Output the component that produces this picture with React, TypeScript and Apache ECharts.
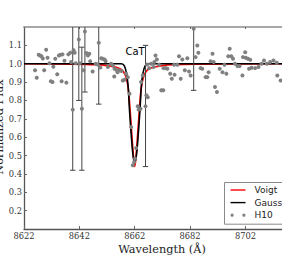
import React, { useEffect, useRef } from "react";
import * as echarts from "echarts";

const X0 = 8622;
const xTicks = [8622, 8642, 8662, 8682, 8702];
const yTicks = [0.2, 0.3, 0.4, 0.5, 0.6, 0.7, 0.8, 0.9, 1.0, 1.1];

// H10 observed spectrum (wavelength, normalized flux)
const h10Wave = [
  8626.0, 8626.6, 8627.3, 8627.8, 8628.3, 8628.8, 8629.3, 8630.0, 8630.5, 8631.2,
  8631.7, 8632.3, 8632.6, 8633.3, 8634.0, 8634.6, 8635.2, 8635.9, 8635.6, 8636.6,
  8637.3, 8638.0, 8638.7, 8639.0, 8639.9, 8640.3, 8639.6, 8641.8, 8640.7, 8642.1,
  8642.9, 8644.0, 8643.5, 8644.5, 8645.1, 8645.6, 8645.9, 8646.8, 8647.9, 8648.6,
  8649.0, 8649.6, 8649.9, 8650.4, 8651.1, 8651.5, 8652.3, 8653.5, 8654.1, 8654.7,
  8654.6, 8655.3, 8655.8, 8656.2, 8657.2, 8657.7, 8658.3, 8658.9, 8659.5, 8660.1,
  8660.7, 8661.3, 8661.8, 8662.1, 8662.5, 8663.1, 8663.4, 8664.1, 8664.3, 8664.9,
  8665.9, 8666.2, 8666.7, 8666.5, 8667.2, 8667.9, 8668.8, 8669.5, 8669.1, 8670.0,
  8670.8, 8671.6, 8672.3, 8672.4, 8673.2, 8673.8, 8674.8, 8675.4, 8676.2, 8676.4,
  8677.4, 8678.0, 8678.6, 8679.2, 8680.1, 8681.0, 8681.6, 8682.2, 8683.3, 8684.0,
  8684.6, 8685.0, 8685.8, 8686.4, 8687.6, 8688.2, 8688.7, 8689.4, 8690.1, 8690.5,
  8691.0, 8691.7, 8692.7, 8693.7, 8694.4, 8695.1, 8695.8, 8696.3, 8696.9, 8697.5,
  8698.2, 8699.1, 8699.9, 8700.9, 8701.1, 8701.9, 8702.1, 8702.9, 8703.7, 8703.3,
  8704.2, 8705.5, 8706.7, 8707.8, 8708.7, 8709.7, 8710.9, 8712.1, 8713.3, 8713.5,
  8714.7,
];
const h10Flux = [
  0.964, 0.924, 1.049, 1.045, 1.041, 1.029, 0.964, 1.076, 1.033, 1.003,
  0.905, 0.900, 0.984, 1.027, 0.943, 1.045, 1.049, 1.051, 0.905, 1.016,
  0.897, 1.051, 1.060, 1.009, 1.074, 1.060, 0.750, 1.132, 1.003, 1.003,
  0.755, 1.176, 0.964, 1.058, 1.045, 1.054, 1.013, 0.958, 1.000, 0.996,
  1.114, 0.980, 1.030, 1.027, 1.023, 1.014, 0.982, 1.000, 0.991, 0.973,
  0.931, 0.967, 0.954, 0.964, 0.960, 0.909, 0.913, 0.946, 0.927, 0.837,
  0.655, 0.447, 0.465, 0.484, 0.541, 0.768, 0.750, 0.755, 0.900, 0.936,
  0.768, 0.828, 0.818, 0.996, 0.976, 1.000, 0.982, 1.045, 1.009, 1.023,
  0.995, 0.855, 0.855, 0.976, 0.976, 0.973, 0.946, 0.918, 0.995, 0.940,
  0.995, 1.041, 0.918, 1.023, 0.964, 1.030, 0.958, 0.936, 1.190, 1.036,
  1.099, 1.060, 0.976, 0.973, 0.927, 0.927, 0.954, 1.013, 1.054, 1.009,
  0.873, 0.846, 0.973, 0.954, 0.995, 0.946, 1.041, 1.082, 1.041, 1.027,
  1.000, 0.987, 0.987, 0.936, 1.036, 1.063, 1.033, 1.027, 1.022, 0.973,
  0.978, 0.976, 0.982, 1.000, 1.018, 1.000, 1.009, 1.018, 1.005, 0.936,
  0.909,
];

// error bars (wavelength, lower, upper)
const errWave = [8639.6, 8641.8, 8642.9, 8644.0, 8649.0, 8665.9, 8683.3];
const errLow = [0.42, 0.80, 0.42, 0.846, 0.78, 0.44, 0.855];
const errHigh = [1.25, 1.46, 1.09, 1.51, 1.45, 1.10, 1.52];

// Voigt fit
const voigtWave = [
  8622, 8640, 8648, 8652, 8655, 8657, 8658, 8659, 8659.7, 8660.3, 8661, 8661.5,
  8662.0, 8662.5, 8663, 8663.7, 8664.3, 8665, 8666, 8667, 8669, 8672, 8676, 8684, 8716,
];
const voigtFlux = [
  1.0, 0.998, 0.995, 0.99, 0.982, 0.97, 0.955, 0.92, 0.86, 0.75, 0.6, 0.5,
  0.44, 0.5, 0.6, 0.75, 0.86, 0.92, 0.955, 0.97, 0.982, 0.99, 0.995, 0.998, 1.0,
];

// Gaussian fit
const gaussWave = [
  8622, 8657, 8658.2, 8659, 8659.6, 8660.1, 8660.8, 8661.4, 8662.0, 8662.6,
  8663.2, 8663.9, 8664.4, 8665, 8665.8, 8667, 8716,
];
const gaussFlux = [
  1.0, 1.0, 0.99, 0.95, 0.88, 0.75, 0.6, 0.5, 0.465, 0.5,
  0.6, 0.75, 0.88, 0.95, 0.99, 1.0, 1.0,
];

const SERIF = "DejaVu Serif";
const SANS = "DejaVu Sans";

export default function App() {
  const ref = useRef<HTMLDivElement>(null);
  useEffect(() => {
    if (!ref.current) return;
    const chart = echarts.init(ref.current, undefined, { renderer: "svg" });
    const pair = (w: number[], f: number[]) => w.map((x, i) => [x - X0, f[i]]);
    const xMax = 93.2;
    const lineIcon = "path://M0,0M15,10M0,4.3h15v1.4h-15z";
    const dotIcon =
      "path://M0,0M15,10M0,5a1.6,1.6 0 1,0 3.2,0a1.6,1.6 0 1,0 -3.2,0zM11.8,5a1.6,1.6 0 1,0 3.2,0a1.6,1.6 0 1,0 -3.2,0z";
    const option: any = {
      animation: false,
      backgroundColor: "#ffffff",
      grid: { left: 24, right: 0, top: 27, bottom: 41, containLabel: false },
      legend: {
        orient: "vertical",
        left: 224.5,
        top: 182.5,
        backgroundColor: "#ffffff",
        borderColor: "#8a8a8a",
        borderWidth: 1,
        borderRadius: 0,
        padding: [2.5, 30, 4, 6],
        itemGap: 2.6,
        itemWidth: 15,
        itemHeight: 10,
        textStyle: { fontFamily: SANS, fontSize: 9, color: "#222", padding: [0, 0, 0, 4] },
        data: [
          { name: "Voigt", icon: lineIcon },
          { name: "Gauss", icon: lineIcon },
          { name: "H10", icon: dotIcon },
        ],
      },
      xAxis: [
        {
          type: "value",
          min: 0,
          max: xMax,
          interval: 20,
          axisLine: { show: true, lineStyle: { color: "#555", width: 1.3 } },
          axisTick: { show: true, inside: true, length: 3, lineStyle: { color: "#666" } },
          axisLabel: {
            margin: 3,
            fontFamily: SERIF,
            fontSize: 8.3,
            color: "#333",
            showMaxLabel: false,
            formatter: (v: number) => {
              const w = Math.round(v + X0);
              return xTicks.indexOf(w) >= 0 && Math.abs(v + X0 - w) < 1e-6 ? String(w) : "";
            },
          },
          splitLine: { show: false },
        },
        {
          type: "value",
          position: "top",
          min: 0,
          max: xMax,
          interval: 20,
          axisLine: { show: true, lineStyle: { color: "#a8a8a8", width: 2 } },
          axisTick: { show: true, inside: true, length: 2, lineStyle: { color: "#666" } },
          axisLabel: { show: false },
          splitLine: { show: false },
        },
      ],
      yAxis: {
        type: "value",
        min: 0.1,
        max: 1.2,
        interval: 0.1,
        axisLine: { show: true, lineStyle: { color: "#555", width: 1.3 } },
        axisTick: { show: true, inside: true, length: 3, lineStyle: { color: "#666" } },
        axisLabel: {
          margin: 2,
          fontFamily: SERIF,
          fontSize: 8.3,
          color: "#333",
          showMinLabel: false,
          showMaxLabel: false,
          formatter: (v: number) => {
            const r = Math.round(v * 10) / 10;
            return yTicks.some((t) => Math.abs(t - r) < 1e-6) ? r.toFixed(1) : "";
          },
        },
        splitLine: { show: false },
      },
      series: [
        {
          name: "Voigt",
          type: "line",
          data: pair(voigtWave, voigtFlux),
          showSymbol: false,
          symbol: "none",
          smooth: 0.3,
          color: "#ff0000",
          itemStyle: { color: "#ff0000" },
          lineStyle: { color: "#ff0000", width: 1.7 },
          z: 2,
        },
        {
          name: "Gauss",
          type: "line",
          data: pair(gaussWave, gaussFlux),
          showSymbol: false,
          symbol: "none",
          smooth: 0.3,
          color: "#000000",
          itemStyle: { color: "#000000" },
          lineStyle: { color: "#000000", width: 1.6 },
          z: 3,
        },
        {
          name: "errors",
          type: "custom",
          data: errWave.map((w, i) => [w - X0, errLow[i], errHigh[i]]),
          encode: { x: 0, y: [1, 2] },
          z: 4,
          renderItem: (params: any, api: any) => {
            const x = api.value(0);
            const lo = api.value(1);
            const hi = api.value(2);
            const cs = params.coordSys;
            const pLo = api.coord([x, lo]);
            const pHi = api.coord([x, hi]);
            const top = cs.y;
            const bottom = cs.y + cs.height;
            const y1 = Math.max(pHi[1], top);
            const y2 = Math.min(pLo[1], bottom);
            const st = { stroke: "#454545", lineWidth: 1 };
            const children: any[] = [
              { type: "line", shape: { x1: pLo[0], y1, x2: pLo[0], y2 }, style: st },
            ];
            if (pHi[1] >= top) {
              children.push({
                type: "line",
                shape: { x1: pHi[0] - 2.7, y1: pHi[1], x2: pHi[0] + 2.7, y2: pHi[1] },
                style: st,
              });
            }
            if (pLo[1] <= bottom) {
              children.push({
                type: "line",
                shape: { x1: pLo[0] - 2.7, y1: pLo[1], x2: pLo[0] + 2.7, y2: pLo[1] },
                style: st,
              });
            }
            return { type: "group", children };
          },
        },
        {
          name: "H10",
          type: "scatter",
          data: pair(h10Wave, h10Flux),
          symbol: "circle",
          symbolSize: 4,
          color: "#808080",
          itemStyle: { color: "#808080", opacity: 1 },
          z: 5,
        },
      ],
      graphic: [
        {
          type: "text",
          left: 125.5,
          top: 46.5,
          z: 10,
          style: { text: "CaT", fontFamily: SANS, fontSize: 10, fill: "#000" },
        },
        {
          type: "text",
          x: 162,
          y: 249,
          z: 10,
          style: {
            text: "Wavelength (Å)",
            fontFamily: SERIF,
            fontSize: 11.3,
            fill: "#222",
            align: "center",
            verticalAlign: "middle",
          },
        },
        {
          type: "text",
          x: -1,
          y: 127,
          rotation: Math.PI / 2,
          z: 10,
          style: {
            text: "Normalized Flux",
            fontFamily: SERIF,
            fontSize: 11.3,
            fill: "#222",
            align: "center",
            verticalAlign: "middle",
          },
        },
      ],
    };
    chart.setOption(option);
    return () => chart.dispose();
  }, []);
  return (
    <div
      ref={ref}
      style={{ position: "fixed", left: 0, top: 0, width: 282, height: 270, background: "#fff" }}
    />
  );
}
